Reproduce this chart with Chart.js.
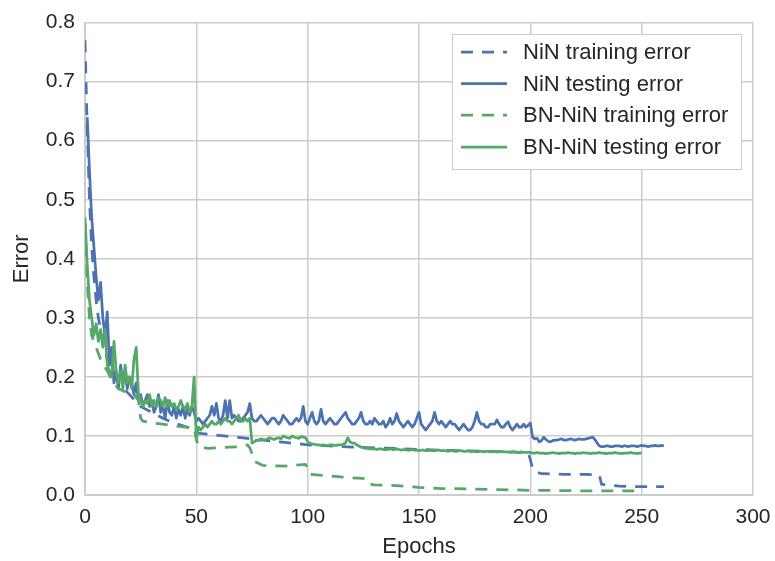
<!DOCTYPE html>
<html>
<head>
<meta charset="utf-8">
<script src="https://cdn.jsdelivr.net/npm/chart.js@4/dist/chart.umd.min.js"></script>
<style>
  html, body { margin: 0; padding: 0; background: #ffffff; }
  #wrap { width: 775px; height: 561px; }
</style>
</head>
<body>
<div id="wrap"><canvas id="chart" width="775" height="561"></canvas></div>
<script>
// Series labels
const seriesLabels = ['NiN training error', 'NiN testing error', 'BN-NiN training error', 'BN-NiN testing error'];

// Axis ticks
const xTicks = [0, 50, 100, 150, 200, 250, 300];
const yTicks = [0.0, 0.1, 0.2, 0.3, 0.4, 0.5, 0.6, 0.7, 0.8];

// NiN training error (sampled epochs)
const ninTrainEpochs = [0, 1, 2, 3, 4, 5, 6, 8, 10, 12, 15, 20, 25, 30, 35, 40, 45, 49, 50, 55, 60, 70, 80, 90, 100,
  110, 120, 130, 140, 150, 160, 170, 180, 190, 199, 200, 201, 202, 205, 215, 225, 231, 232, 240, 250, 260];
const ninTrainError = [0.77, 0.62, 0.50, 0.42, 0.37, 0.33, 0.30, 0.26, 0.23, 0.21, 0.19, 0.17, 0.15, 0.14, 0.13, 0.122, 0.116, 0.112, 0.105, 0.103, 0.101, 0.097, 0.093, 0.089, 0.085,
  0.083, 0.081, 0.080, 0.079, 0.077, 0.076, 0.075, 0.074, 0.073, 0.072, 0.060, 0.045, 0.040, 0.036, 0.035, 0.035, 0.034, 0.018, 0.015, 0.014, 0.014];

// NiN testing error, one value per epoch starting at epoch 1
const ninTestStart = 1;
const ninTestError = [
  0.64, 0.55, 0.47, 0.42, 0.37, 0.33, 0.36, 0.30, 0.27, 0.31,
  0.22, 0.25, 0.19, 0.21, 0.18, 0.22, 0.19, 0.21, 0.18, 0.20,
  0.19, 0.17, 0.19, 0.16, 0.17, 0.15, 0.16, 0.17, 0.15, 0.16,
  0.14, 0.15, 0.17, 0.14, 0.15, 0.13, 0.16, 0.14, 0.135, 0.15,
  0.13, 0.145, 0.135, 0.15, 0.13, 0.145, 0.135, 0.15, 0.14, 0.125,
  0.13, 0.125, 0.12, 0.125, 0.13, 0.135, 0.15, 0.135, 0.155, 0.13,
  0.125, 0.135, 0.16, 0.13, 0.16, 0.13, 0.135, 0.13, 0.125, 0.125,
  0.13, 0.135, 0.14, 0.155, 0.13, 0.125, 0.125, 0.13, 0.135, 0.13,
  0.125, 0.12, 0.125, 0.13, 0.13, 0.125, 0.12, 0.125, 0.135, 0.13,
  0.125, 0.12, 0.12, 0.125, 0.13, 0.125, 0.13, 0.15, 0.125, 0.12,
  0.13, 0.14, 0.125, 0.12, 0.125, 0.145, 0.125, 0.12, 0.125, 0.13,
  0.125, 0.12, 0.12, 0.125, 0.13, 0.135, 0.14, 0.13, 0.125, 0.12,
  0.12, 0.125, 0.13, 0.14, 0.125, 0.12, 0.12, 0.125, 0.12, 0.13,
  0.125, 0.12, 0.12, 0.125, 0.115, 0.12, 0.13, 0.12, 0.125, 0.138,
  0.125, 0.12, 0.115, 0.12, 0.125, 0.12, 0.115, 0.12, 0.13, 0.14,
  0.12, 0.115, 0.11, 0.115, 0.12, 0.125, 0.14, 0.125, 0.12, 0.125,
  0.12, 0.115, 0.12, 0.125, 0.12, 0.12, 0.115, 0.11, 0.115, 0.12,
  0.115, 0.11, 0.11, 0.115, 0.125, 0.14, 0.125, 0.12, 0.12, 0.115,
  0.115, 0.12, 0.12, 0.12, 0.127, 0.12, 0.115, 0.115, 0.12, 0.124,
  0.115, 0.11, 0.115, 0.12, 0.115, 0.115, 0.12, 0.115, 0.118, 0.122,
  0.098, 0.095, 0.096, 0.090, 0.092, 0.098, 0.094, 0.091, 0.090, 0.092,
  0.093, 0.093, 0.094, 0.095, 0.093, 0.093, 0.094, 0.095, 0.094, 0.093,
  0.094, 0.095, 0.094, 0.094, 0.095, 0.096, 0.097, 0.098, 0.094, 0.088,
  0.083, 0.082, 0.082, 0.083, 0.083, 0.082, 0.082, 0.083, 0.083, 0.083,
  0.082, 0.083, 0.083, 0.082, 0.083, 0.083, 0.083, 0.082, 0.083, 0.084,
  0.083, 0.083, 0.082, 0.083, 0.083, 0.084, 0.083, 0.083, 0.084, 0.083
];

// BN-NiN training error (sampled epochs)
const bnTrainEpochs = [0, 1, 2, 3, 4, 5, 7, 10, 12, 15, 18, 22, 24, 25, 26, 30, 35, 40, 45, 49, 50, 51, 55, 60, 65, 70, 73, 74, 75, 76,
  80, 90, 99, 100, 101, 110, 120, 125, 126, 130, 140, 150, 160, 175, 200, 225, 250];
const bnTrainError = [0.46, 0.36, 0.30, 0.27, 0.26, 0.25, 0.23, 0.21, 0.195, 0.18, 0.175, 0.17, 0.16, 0.13, 0.125, 0.122, 0.12, 0.117, 0.115, 0.113, 0.095, 0.082, 0.079, 0.080, 0.081, 0.082, 0.085, 0.080, 0.070, 0.057,
  0.050, 0.049, 0.052, 0.045, 0.035, 0.032, 0.029, 0.028, 0.020, 0.017, 0.016, 0.013, 0.011, 0.010, 0.008, 0.007, 0.007];

// BN-NiN testing error, one value per epoch starting at epoch 0
const bnTestStart = 0;
const bnTestError = [
  0.47,
  0.39, 0.33, 0.30, 0.27, 0.29, 0.26, 0.28, 0.25, 0.28, 0.22,
  0.21, 0.20, 0.26, 0.21, 0.19, 0.21, 0.18, 0.22, 0.19, 0.20,
  0.18, 0.23, 0.25, 0.17, 0.16, 0.15, 0.16, 0.155, 0.17, 0.15,
  0.16, 0.15, 0.165, 0.16, 0.15, 0.165, 0.15, 0.16, 0.15, 0.155,
  0.145, 0.15, 0.16, 0.15, 0.145, 0.155, 0.14, 0.15, 0.20, 0.093,
  0.115, 0.11, 0.115, 0.12, 0.115, 0.12, 0.125, 0.12, 0.12, 0.125,
  0.12, 0.125, 0.13, 0.125, 0.125, 0.12, 0.125, 0.13, 0.135, 0.125,
  0.125, 0.13, 0.125, 0.13, 0.088, 0.090, 0.093, 0.092, 0.095, 0.094,
  0.093, 0.095, 0.097, 0.095, 0.094, 0.096, 0.097, 0.095, 0.100, 0.098,
  0.097, 0.096, 0.100, 0.098, 0.097, 0.096, 0.099, 0.098, 0.097, 0.090,
  0.088, 0.086, 0.086, 0.085, 0.085, 0.084, 0.085, 0.084, 0.084, 0.085,
  0.085, 0.084, 0.084, 0.085, 0.085, 0.086, 0.088, 0.097, 0.090, 0.088,
  0.088, 0.085, 0.083, 0.081, 0.080, 0.079, 0.079, 0.078, 0.078, 0.078,
  0.077, 0.078, 0.078, 0.077, 0.077, 0.077, 0.078, 0.077, 0.077, 0.078,
  0.077, 0.076, 0.077, 0.077, 0.076, 0.076, 0.077, 0.076, 0.076, 0.075,
  0.076, 0.076, 0.075, 0.075, 0.076, 0.075, 0.075, 0.076, 0.076, 0.075,
  0.075, 0.075, 0.074, 0.075, 0.075, 0.074, 0.074, 0.075, 0.075, 0.074,
  0.074, 0.075, 0.074, 0.074, 0.074, 0.073, 0.074, 0.074, 0.073, 0.074,
  0.074, 0.073, 0.073, 0.074, 0.073, 0.073, 0.074, 0.073, 0.073, 0.073,
  0.072, 0.073, 0.073, 0.072, 0.072, 0.073, 0.072, 0.072, 0.072, 0.072,
  0.071, 0.071, 0.072, 0.071, 0.071, 0.071, 0.070, 0.071, 0.071, 0.072,
  0.071, 0.071, 0.070, 0.071, 0.071, 0.071, 0.072, 0.071, 0.071, 0.070,
  0.071, 0.071, 0.071, 0.072, 0.071, 0.071, 0.070, 0.071, 0.071, 0.071,
  0.072, 0.071, 0.071, 0.070, 0.071, 0.071, 0.071, 0.072, 0.071, 0.071,
  0.070, 0.071, 0.071, 0.071, 0.072, 0.071, 0.071, 0.070, 0.071, 0.071
];

const BLUE = '#4C72B0';
const GREEN = '#55A868';
const TEXT = '#262626';
const GRID = '#cccccc';
const FONT = "'Liberation Sans', Arial, sans-serif";

function pairs(xs, ys) { return ys.map((y, i) => ({ x: xs[i], y: y })); }
function perEpoch(start, ys) { return ys.map((y, i) => ({ x: start + i, y: y })); }

// Legend drawn inside the plot, upper right, with a framed white box
const insideLegend = {
  id: 'insideLegend',
  afterDatasetsDraw(chart) {
    const ctx = chart.ctx;
    const bx = 452.5, by = 34.5, bw = 289, bh = 135;
    ctx.save();
    ctx.fillStyle = '#ffffff';
    ctx.strokeStyle = GRID;
    ctx.lineWidth = 1;
    ctx.fillRect(bx, by, bw, bh);
    ctx.strokeRect(bx, by, bw, bh);
    const rows = [52, 83.5, 115, 147];
    chart.data.datasets.forEach((ds, i) => {
      const y = rows[i];
      ctx.strokeStyle = ds.borderColor;
      ctx.lineWidth = ds.borderWidth;
      ctx.lineCap = 'butt';
      ctx.setLineDash(ds.borderDash || []);
      ctx.beginPath();
      ctx.moveTo(461, y);
      ctx.lineTo(507, y);
      ctx.stroke();
      ctx.setLineDash([]);
      ctx.fillStyle = TEXT;
      ctx.font = '22px ' + FONT;
      ctx.textBaseline = 'middle';
      ctx.textAlign = 'left';
      ctx.fillText(ds.label, 523, y + 1);
    });
    ctx.restore();
  }
};

const DASH = [12, 9];
const LW = 2.75;

new Chart(document.getElementById('chart'), {
  type: 'line',
  data: {
    datasets: [
      { label: seriesLabels[0], data: pairs(ninTrainEpochs, ninTrainError), borderColor: BLUE, borderWidth: LW, borderDash: DASH, order: 4 },
      { label: seriesLabels[1], data: perEpoch(ninTestStart, ninTestError), borderColor: BLUE, borderWidth: LW, order: 3 },
      { label: seriesLabels[2], data: pairs(bnTrainEpochs, bnTrainError), borderColor: GREEN, borderWidth: LW, borderDash: DASH, order: 2 },
      { label: seriesLabels[3], data: perEpoch(bnTestStart, bnTestError), borderColor: GREEN, borderWidth: LW, order: 1 }
    ]
  },
  options: {
    responsive: false,
    animation: false,
    devicePixelRatio: 1,
    layout: { padding: { left: 0, top: 22, right: 22, bottom: 0 } },
    elements: { point: { radius: 0 }, line: { tension: 0, fill: false, borderJoinStyle: 'round' } },
    plugins: { legend: { display: false }, tooltip: { enabled: false } },
    scales: {
      x: {
        type: 'linear',
        min: 0, max: 300,
        afterBuildTicks: (s) => { s.ticks = xTicks.map(v => ({ value: v })); },
        afterFit: (s) => { s.height = 66; },
        ticks: { color: TEXT, font: { family: FONT, size: 21, lineHeight: 1.75 }, padding: 4, maxRotation: 0 },
        grid: { color: GRID, lineWidth: 1.5, drawTicks: false },
        border: { display: true, color: GRID, width: 2 },
        title: { display: true, text: 'Epochs', color: TEXT, font: { family: FONT, size: 22 }, padding: { top: 0, bottom: 1 } }
      },
      y: {
        type: 'linear',
        min: 0, max: 0.8,
        afterBuildTicks: (s) => { s.ticks = yTicks.map(v => ({ value: v })); },
        afterFit: (s) => { s.width = 85; },
        ticks: { color: TEXT, font: { family: FONT, size: 21 }, padding: 10, callback: (v) => Number(v).toFixed(1) },
        grid: { color: GRID, lineWidth: 1.5, drawTicks: false },
        border: { display: true, color: GRID, width: 2 },
        title: { display: true, text: 'Error', color: TEXT, font: { family: FONT, size: 22 }, padding: { top: 9, bottom: 0 } }
      }
    }
  },
  plugins: [insideLegend]
});
</script>
</body>
</html>
